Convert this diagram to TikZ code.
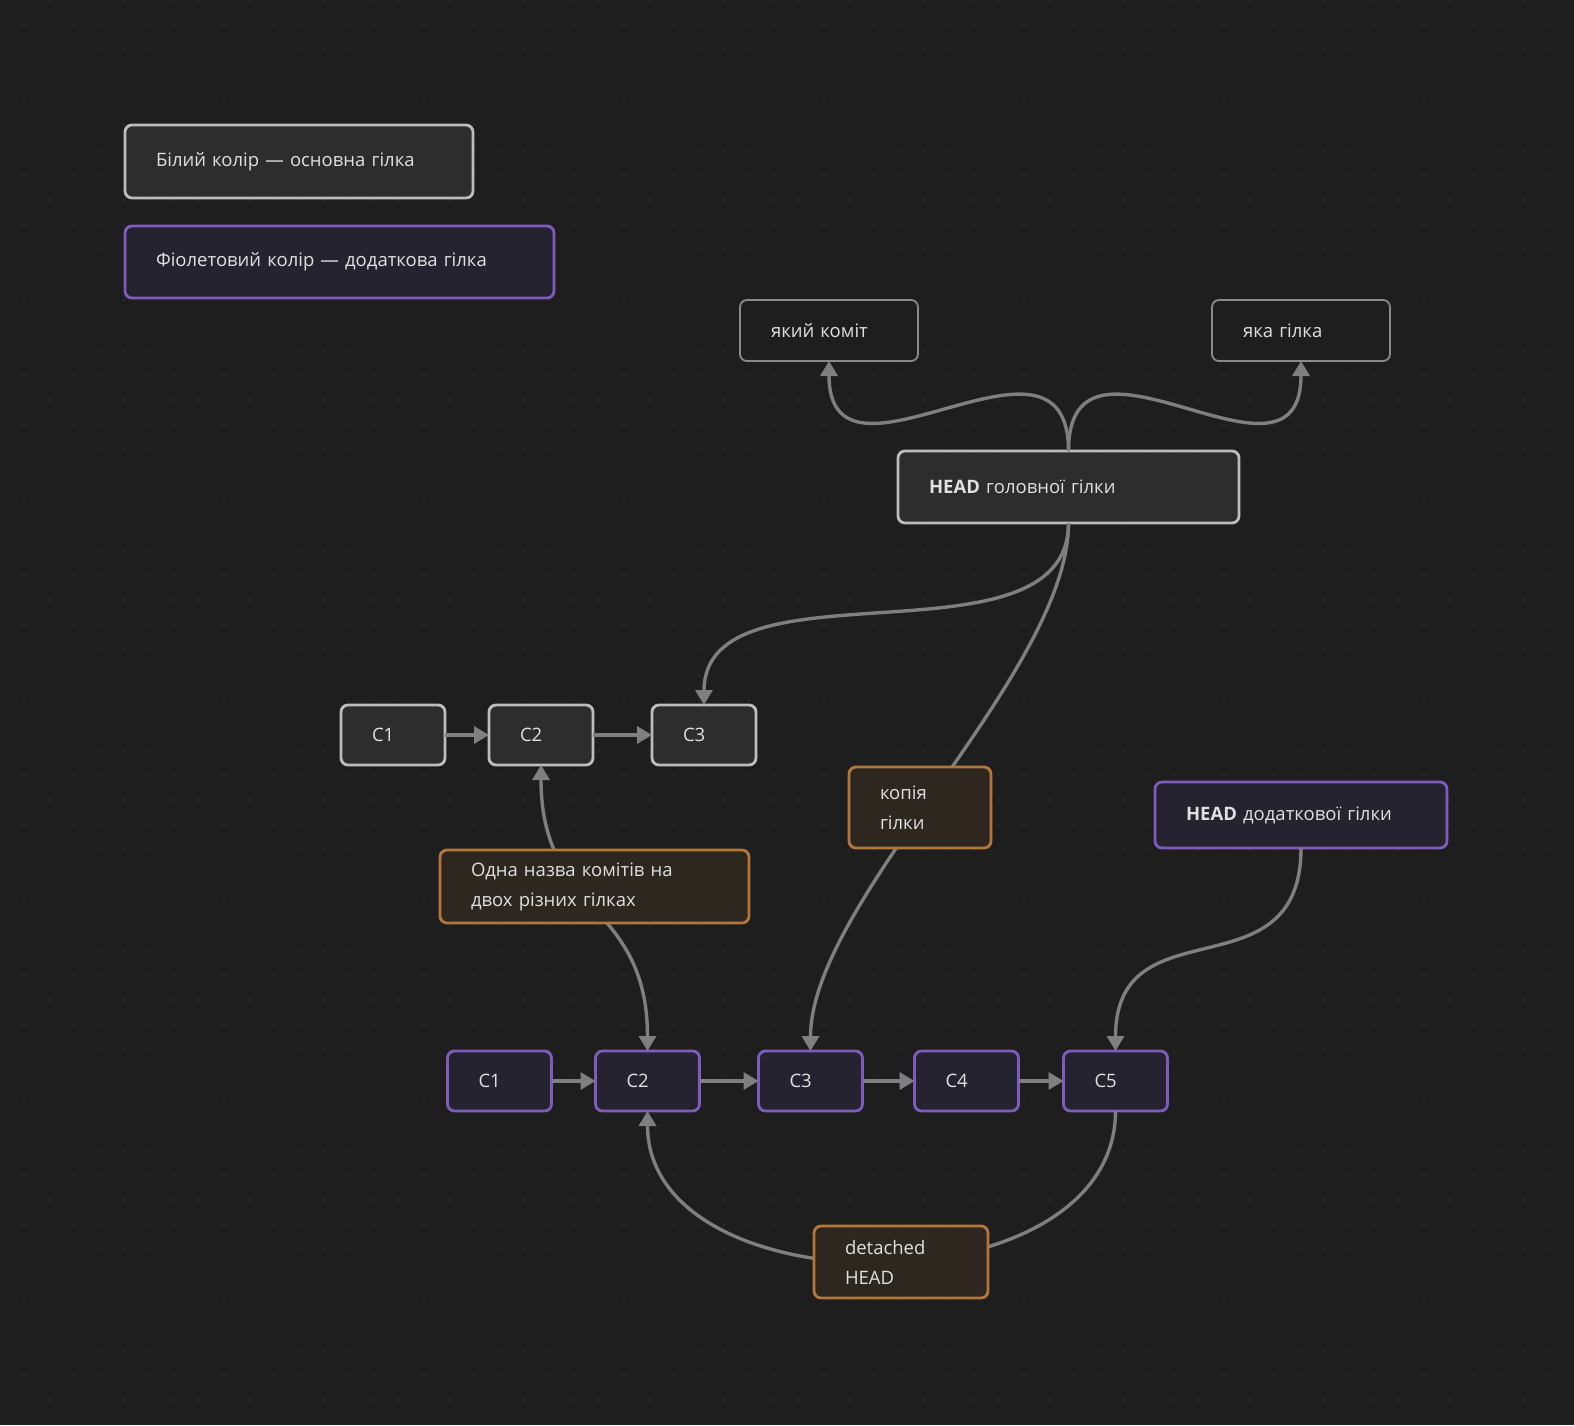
\documentclass[tikz,border=0pt]{standalone}
\usepackage{fontspec}
\setmainfont{Open Sans}
\usetikzlibrary{positioning, arrows.meta}
\definecolor{canvasbg}{HTML}{1E1E1E}
\definecolor{dotc}{HTML}{2C2C2C}
\definecolor{cardtext}{HTML}{E0E0E0}
\definecolor{mainline}{HTML}{BDBDBD}
\definecolor{mainfill}{HTML}{2D2D2D}
\definecolor{sideline}{HTML}{7E5CBE}
\definecolor{sidefill}{HTML}{262330}
\definecolor{noteline}{HTML}{B4773A}
\definecolor{notefill}{HTML}{2D2720}
\definecolor{askline}{HTML}{8A8A8A}
\definecolor{linkc}{HTML}{7F7F7F}

\begin{document}
\begin{tikzpicture}[
        x=1pt, y=-1pt,
        % базовий блок
        card/.style={rectangle, rounded corners=7pt, line width=2.8pt, outer sep=0pt, inner xsep=31pt, inner ysep=0pt, align=left, text=cardtext, font=\fontsize{18.5}{30}\selectfont},
        % основна гілка (білий)
        mainbox/.style={card, draw=mainline, fill=mainfill},
        % додаткова гілка (фіолетовий)
        sidebox/.style={card, draw=sideline, fill=sidefill},
        % примітки (помаранчевий)
        notebox/.style={card, draw=noteline, fill=notefill},
        % питання
        askbox/.style={card, line width=1.8pt, draw=askline, fill=canvasbg},
        % коміт
        commit/.style={minimum height=60pt, text width=42pt},
        % лінії та стрілки
        link/.style={draw=linkc, line width=3.4pt},
        arrow/.style={link, -{Triangle[length=15pt, width=17pt]}}
    ]

    % фон і сітка точок
    \fill[canvasbg] (0,0) rectangle (1574,1425);
    \useasboundingbox (0,0) rectangle (1574,1425);
    \foreach \x in {24,49,...,1549}
        \foreach \y in {0,25,...,1400}
            \fill[dotc] (\x,\y) circle (1.2pt);

    % легенда
    \node[mainbox, text width=286pt, minimum height=73pt] (legmain) at (299,161.5) {Білий колір — основна гілка};
    \node[sidebox, text width=367pt, minimum height=72pt] (legside) at (339.5,262) {Фіолетовий колір — додаткова гілка};

    % HEAD та питання
    \node[askbox, text width=116pt, minimum height=61pt] (whichcommit) at (829,330.5) {який коміт};
    \node[askbox, text width=116pt, minimum height=61pt] (whichbranch) at (1301,330.5) {яка гілка};
    \node[mainbox, text width=279pt, minimum height=72pt] (headmain) at (1068.5,487) {\textbf{HEAD} головної гілки};
    \node[sidebox, text width=230pt, minimum height=66pt] (headside) at (1301,815) {\textbf{HEAD} додаткової гілки};

    % коміти основної гілки
    \node[mainbox, commit] (mc1) at (393,735) {C1};
    \node[mainbox, commit, right=44pt of mc1] (mc2) {C2};
    \node[mainbox, commit, right=59pt of mc2] (mc3) {C3};

    % коміти додаткової гілки
    \node[sidebox, commit] (sc1) at (499.5,1081) {C1};
    \node[sidebox, commit, right=44pt of sc1] (sc2) {C2};
    \node[sidebox, commit, right=59pt of sc2] (sc3) {C3};
    \node[sidebox, commit, right=52pt of sc3] (sc4) {C4};
    \node[sidebox, commit, right=45pt of sc4] (sc5) {C5};

    % стрілки між комітами
    \draw[arrow] (mc1) -- (mc2);
    \draw[arrow] (mc2) -- (mc3);
    \foreach \a/\b in {sc1/sc2, sc2/sc3, sc3/sc4, sc4/sc5}
        \draw[arrow] (\a) -- (\b);

    % зв'язки HEAD
    \draw[arrow] (headmain.north) .. controls +(0pt,150pt) and +(0pt,-150pt) .. (whichcommit.south);
    \draw[arrow] (headmain.north) .. controls +(0pt,150pt) and +(0pt,-150pt) .. (whichbranch.south);
    \draw[arrow] (headmain.south) .. controls +(0pt,-150pt) and +(0pt,150pt) .. (mc3.north);
    \draw[arrow] (headmain.south) .. controls +(0pt,-150pt) and +(0pt,150pt) .. (sc3.north);
    \draw[arrow] (headside.south) .. controls +(0pt,-150pt) and +(0pt,150pt) .. (sc5.north);
    \draw[arrow] (sc5.south) .. controls +(0pt,-200pt) and +(0pt,-200pt) .. (sc2.south);
    \draw[link, {Triangle[length=15pt, width=17pt]}-{Triangle[length=15pt, width=17pt]}] (mc2.south) .. controls +(0pt,-150pt) and +(0pt,150pt) .. (sc2.north);

    % примітки поверх ліній
    \node[notebox, text width=80pt, minimum height=81pt] (copynote) at (920,807.5) {копія\\гілки};
    \node[notebox, text width=247pt, minimum height=73pt] (samename) at (594.5,886.5) {Одна назва комітів на\\двох різних гілках};
    \node[notebox, text width=112pt, minimum height=72pt] (detached) at (901,1262) {detached\\HEAD};

\end{tikzpicture}
\end{document}
